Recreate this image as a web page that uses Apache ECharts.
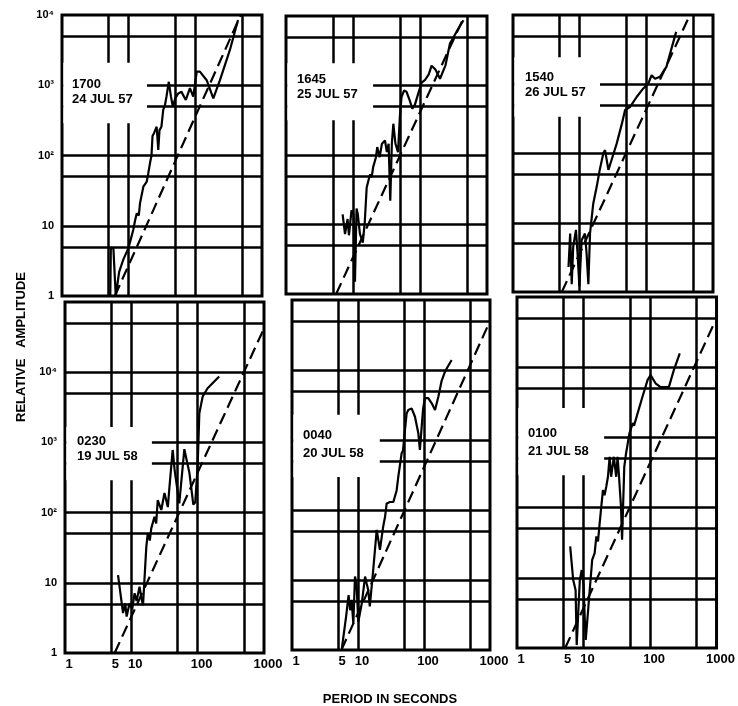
<!DOCTYPE html>
<html><head><meta charset="utf-8">
<script src="https://cdn.jsdelivr.net/npm/echarts@6/dist/echarts.min.js"></script>
<style>html,body{margin:0;padding:0;background:#fff}#c{width:738px;height:706px}</style>
</head><body><div id="c"></div>
<script>
// ---------- DATA (period in seconds, relative amplitude) ----------
const panelTitles = ['1700\n24 JUL 57', '1645\n25 JUL 57', '1540\n26 JUL 57',
                     '0230\n19 JUL 58', '0040\n20 JUL 58', '0100\n21 JUL 58'];

const solid1700 = [[5.3,1],[5.4,4.8],[5.9,4.8],[6.4,1],[7.2,2.2],[8.3,3.3],[9.9,4.8],[10.8,6.5],[11.7,8.7],[12.5,12],[13.2,15],[14.2,14],[14.8,21],[16.6,36],[17.6,38],[18.6,42],[19.7,56],[21,80],[22,100],[22.8,190],[24,208],[25,200],[26.3,257],[27.8,120],[29,230],[31,257],[33,445],[35,520],[37,700],[40,1120],[43,700],[46,495],[50,650],[55,760],[62,810],[67,700],[72,617],[83,910],[93,690],[105,1560],[117,1560],[148,1180],[186,650],[234,1180],[330,3180],[437,8500]];
const dashed1700 = [[6.2,1],[480,10000]];

const solid1645 = [[7.0,14],[7.6,7.3],[8.3,12],[8.7,7],[9.5,16],[10.2,14],[10.7,1.5],[11.3,17],[11.8,14],[12.7,7.3],[14,5.5],[15,11],[16,34],[17,43],[18,53],[19,48],[20,67],[22,93],[23,130],[25,93],[27,145],[30,162],[32,110],[34,145],[36,22],[38,145],[40,282],[43,145],[47,110],[50,350],[53,684],[58,853],[63,810],[70,614],[77,465],[84,530],[94,764],[106,1100],[118,1190],[135,1450],[149,1930],[170,1700],[199,1250],[240,1950],[280,4030],[350,5900],[445,8700]];
const dashed1645 = [[5.6,1],[460,10000]];

const solid1540 = [[6.8,2.3],[7.2,7],[7.6,1.3],[8.0,4.5],[8.8,7.9],[9.3,3.6],[9.9,1.2],[10.7,5.6],[12,7],[12.7,3.6],[13.5,1.3],[14.3,7],[16,19],[18,33],[20,58],[22.6,100],[24,112],[27,58],[30,80],[36,140],[43,270],[48,425],[57,470],[72,660],[90,870],[107,1020],[120,1350],[135,1200],[160,1280],[200,1780],[280,5700]];
const dashed1540 = [[5.4,1],[450,10000]];

const solid0230 = [[6.3,12.9],[7.5,3.7],[8.1,5.1],[8.5,3.3],[9.4,5.1],[10.3,4.2],[11.2,7.1],[12,5.5],[13.3,8.8],[14,6.5],[15,4.8],[16.8,32],[17.7,51],[19,40],[20,60],[22.3,87],[23.7,70],[25,150],[28.3,109],[31.6,190],[35.5,120],[37.6,234],[42,780],[45,400],[52.8,135],[63,800],[66,850],[75,370],[86,130],[92,140],[100,470],[106,2600],[119,4500],[141,5900],[211,8700]];
const dashed0230 = [[5.6,1],[1000,42000]];

const solid0040 = [[5.7,1.06],[6.6,3],[7.2,6.1],[7.6,3.7],[8.0,5.2],[8.5,2.4],[9.0,11.2],[9.5,9],[10.1,2.5],[11.4,4.6],[12.8,11.2],[13.5,9],[14.3,7.2],[15.1,4.2],[17,13.9],[19.2,52],[21.5,27],[24,57],[25.7,80],[27.2,124],[30.5,130],[34.3,130],[38.5,190],[40.8,300],[45.8,646],[48,700],[51.5,1390],[54.6,2400],[57.8,2680],[65,2830],[73,2150],[82,1250],[86.6,720],[92,1500],[97,2800],[103,3960],[116,3960],[131,3340],[147,2680],[165,4150],[185,7000],[208,9500],[262,13900]];
const dashed0040 = [[5.6,1],[1000,50000]];

const solid0100 = [[6.3,28],[7.0,9.3],[7.6,6.7],[7.9,1.1],[8.8,9.3],[9.4,12.9],[10,8],[10.5,2.3],[10.8,1.3],[12.4,6.7],[13.5,18],[14.7,22.5],[15.6,39],[16.5,33],[17.5,60],[18.5,103],[19.6,178],[20.7,150],[22,200],[23.3,275],[24.7,530],[26,275],[28.6,530],[31,275],[32.5,530],[34,300],[36.6,103],[38,35],[41,380],[43.6,590],[49,1140],[55,1600],[57.5,1470],[65,2200],[77,3800],[92,6600],[102,7700],[108,8200],[121,5900],[144,5200],[192,5200],[228,9100],[280,15700]];
const dashed0100 = [[5.3,1],[950,45000]];

const solidSets = [solid1700, solid1645, solid1540, solid0230, solid0040, solid0100];
const dashedSets = [dashed1700, dashed1645, dashed1540, dashed0230, dashed0040, dashed0100];

// axis values (periods / amplitudes)
const periodGrid = [5, 10, 50, 100, 500];
const periodLabels = [1, 5, 10, 100, 1000];
const ampGridTop = [5, 10, 50, 100, 500, 1000, 5000];
const ampGridBottom = [5, 10, 50, 100, 500, 1000, 5000, 10000, 50000];
const ampLabels = [1, 10, 100, 1000, 10000];

// ---------- LAYOUT ----------
const grids = [
  {left: 62,  top: 15,  width: 200, height: 281, ymax: 4},
  {left: 286, top: 16,  width: 201, height: 278, ymax: 4},
  {left: 513, top: 15,  width: 200, height: 277, ymax: 4},
  {left: 65,  top: 302, width: 199, height: 351, ymax: 5},
  {left: 292, top: 300, width: 198, height: 350, ymax: 5},
  {left: 517, top: 297, width: 202, height: 351, ymax: 5}
];
// white label boxes (log units: x1, y1, x2, y2)
const boxes = [
  [0.02, 2.46, 1.275, 3.32],
  [0.02, 2.50, 1.30, 3.32],
  [0.02, 2.53, 1.305, 3.39],
  [0.02, 2.46, 1.31, 3.22],
  [0.02, 2.47, 1.33, 3.36],
  [0.02, 2.46, 1.31, 3.42]
];
const labelPos = [
  {x: 72, y: 77, lh: 15}, {x: 297, y: 72, lh: 15}, {x: 525, y: 70, lh: 15},
  {x: 77, y: 434, lh: 15}, {x: 303, y: 426, lh: 18}, {x: 528, y: 424, lh: 18}
];

const L = Math.log10;
const toLog = pts => pts.map(p => [L(p[0]), L(p[1])]);
const sup = {2: '²', 3: '³', 4: '⁴'};
const ampFmt = v => { const e = Math.round(v); return e === 0 ? '1' : (e === 1 ? '10' : '10' + sup[e]); };
const perFmt = v => String(Math.round(Math.pow(10, v)));
const FONT = '"Liberation Sans", Arial, sans-serif';

const option = {
  animation: false,
  backgroundColor: '#fff',
  grid: [], xAxis: [], yAxis: [], series: [],
  graphic: []
};

grids.forEach((g, i) => {
  const bottomRow = i >= 3;
  const leftCol = i % 3 === 0;
  option.grid.push({left: g.left, top: g.top, width: g.width, height: g.height,
    show: true, borderColor: '#000', borderWidth: 3, backgroundColor: 'transparent'});
  option.xAxis.push({
    type: 'value', gridIndex: i, min: 0, max: 3,
    axisLine: {show: false},
    axisTick: {show: false, customValues: periodGrid.map(L)},
    splitLine: {show: true, lineStyle: {color: '#000', width: 2.5}},
    axisLabel: {show: bottomRow, customValues: periodLabels.map(L), formatter: perFmt,
      color: '#000', fontSize: 13, fontWeight: 'bold', fontFamily: FONT, margin: 5,
      padding: [0, 0, 0, 8]}
  });
  const ag = bottomRow ? ampGridBottom : ampGridTop;
  option.yAxis.push({
    type: 'value', gridIndex: i, min: 0, max: g.ymax,
    axisLine: {show: false},
    axisTick: {show: false, customValues: ag.map(L)},
    splitLine: {show: true, lineStyle: {color: '#000', width: 2.5}},
    axisLabel: {show: leftCol, customValues: ampLabels.map(L), formatter: ampFmt,
      color: '#000', fontSize: 11, fontWeight: 'bold', fontFamily: FONT, margin: 8}
  });
  const b = boxes[i];
  option.series.push({
    type: 'line', xAxisIndex: i, yAxisIndex: i, data: toLog(solidSets[i]),
    symbol: 'none', z: 3, lineStyle: {color: '#000', width: 2.2}, silent: true,
    markArea: {silent: true, z: 1, itemStyle: {color: '#fff'},
      data: [[{coord: [b[0], b[1]]}, {coord: [b[2], b[3]]}]]}
  });
  option.series.push({
    type: 'line', xAxisIndex: i, yAxisIndex: i, data: toLog(dashedSets[i]),
    symbol: 'none', z: 3, silent: true,
    lineStyle: {color: '#000', width: 2.2, type: [12, 6]}
  });
  const lp = labelPos[i];
  option.graphic.push({
    type: 'text', x: lp.x, y: lp.y, z: 10,
    style: {text: panelTitles[i], fill: '#000', fontSize: 13, fontWeight: 'bold',
      fontFamily: FONT, lineHeight: lp.lh}
  });
});

option.graphic.push({
  type: 'text', x: 21, y: 347, rotation: Math.PI / 2, z: 10,
  style: {text: 'RELATIVE   AMPLITUDE', fill: '#000', fontSize: 13, fontWeight: 'bold',
    fontFamily: FONT, align: 'center', verticalAlign: 'middle'}
});
option.graphic.push({
  type: 'text', x: 390, y: 699, z: 10,
  style: {text: 'PERIOD IN SECONDS', fill: '#000', fontSize: 13, fontWeight: 'bold',
    fontFamily: FONT, align: 'center', verticalAlign: 'middle'}
});

const chart = echarts.init(document.getElementById('c'), null, {renderer: 'canvas'});
chart.setOption(option);
</script>
</body></html>
